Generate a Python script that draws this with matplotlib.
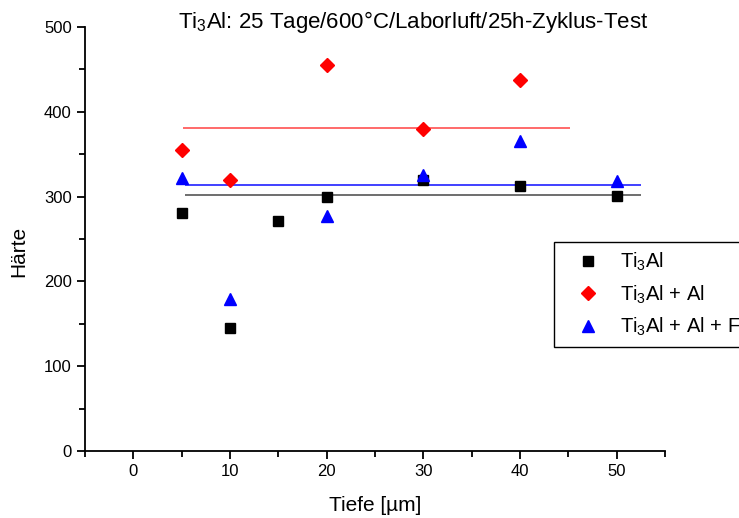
import matplotlib
matplotlib.use("Agg")
import matplotlib.pyplot as plt
from matplotlib.ticker import MultipleLocator

plt.rcParams['font.family'] = ['Liberation Sans', 'DejaVu Sans']
plt.rcParams['mathtext.default'] = 'regular'

# Data
x_ti3al = [5, 10, 15, 20, 30, 40, 50]
y_ti3al = [281, 145, 271, 300, 320, 312, 301]

x_al = [5, 10, 20, 30, 40]
y_al = [355, 320, 455, 380, 437]

x_alf = [5, 10, 20, 30, 40, 50]
y_alf = [322, 179, 277, 326, 365, 318]

# Horizontal reference lines (level, x start, x end)
line_ti3al = (302, 5.3, 52.5)
line_al = (381, 5.1, 45.2)
line_alf = (313.7, 5.3, 52.5)

labels = [r'Ti$_3$Al', r'Ti$_3$Al + Al', r'Ti$_3$Al + Al + F']
title = r'Ti$_3$Al: 25 Tage/600°C/Laborluft/25h-Zyklus-Test'

fig = plt.figure(figsize=(7.39, 5.18), dpi=100)
ax = fig.add_axes([0.115, 0.129, 0.785, 0.819])

ax.hlines(line_ti3al[0], line_ti3al[1], line_ti3al[2], color='#555555', lw=1.2, zorder=2)
ax.hlines(line_al[0], line_al[1], line_al[2], color='#ff5050', lw=1.2, zorder=2)
ax.hlines(line_alf[0], line_alf[1], line_alf[2], color='#2020ff', lw=1.2, zorder=2)

ax.plot(x_ti3al, y_ti3al, ls='none', marker='s', ms=7, color='black', label=labels[0], zorder=3)
ax.plot(x_al, y_al, ls='none', marker='D', ms=7.5, color='red', label=labels[1], zorder=3)
ax.plot(x_alf, y_alf, ls='none', marker='^', ms=9, color='blue', label=labels[2], zorder=4)

ax.set_xlim(-5, 55)
ax.set_ylim(0, 500)
ax.xaxis.set_major_locator(MultipleLocator(10))
ax.xaxis.set_minor_locator(MultipleLocator(5))
ax.yaxis.set_major_locator(MultipleLocator(100))
ax.yaxis.set_minor_locator(MultipleLocator(50))

for s in ['top', 'right']:
    ax.spines[s].set_visible(False)
for s in ['left', 'bottom']:
    ax.spines[s].set_linewidth(1.3)

ax.tick_params(which='major', direction='out', length=6, width=1.3, labelsize=12)
ax.tick_params(which='minor', direction='out', length=4, width=1.3)

ax.set_xlabel('Tiefe [µm]', fontsize=15)
ax.xaxis.set_label_coords(0.5, -0.105)
ax.set_ylabel('Härte', fontsize=15)
ax.yaxis.set_label_coords(-0.097, 0.47)

fig.text(0.559, 0.957, title, ha='center', va='center', fontsize=16)

leg = fig.legend(loc='upper left', bbox_to_anchor=(0.75, 0.533), fontsize=14.5,
                 frameon=True, fancybox=False, edgecolor='black', framealpha=1,
                 borderpad=0.45, labelspacing=0.5, handletextpad=0.3, handlelength=2.5,
                 borderaxespad=0)
leg.get_frame().set_linewidth(1.0)

fig.savefig('out.png', dpi=100)
